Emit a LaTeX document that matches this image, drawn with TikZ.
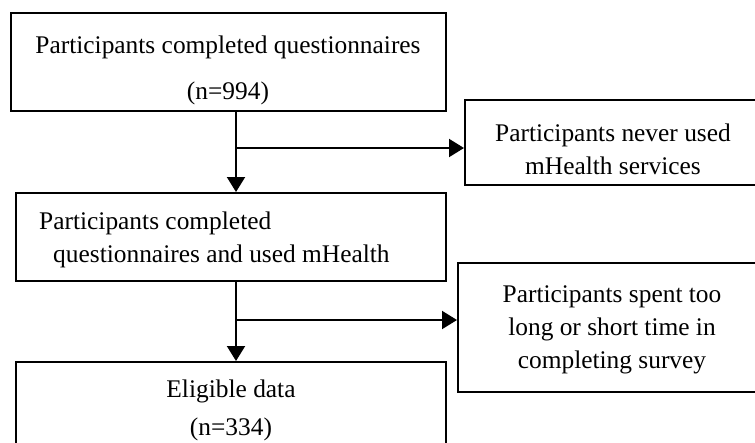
\documentclass[tikz,border=0pt]{standalone}
\usepackage{fontspec}
\setmainfont{Liberation Serif}
\usetikzlibrary{arrows.meta}

\tikzset{
    box/.style={draw, line width=2pt, rectangle, inner sep=0pt},
    label/.style={inner sep=0pt, align=center},
    link/.style={line width=2pt, -{Triangle[length=15pt,width=18pt]}}
}

\begin{document}
\begin{tikzpicture}[x=1pt, y=-1pt, font=\fontsize{25.4}{33}\selectfont]
        \useasboundingbox (0,0) rectangle (755,442);
        \clip (0,0) rectangle (755,442);

        % Boxes of the main flow
        \node[box, minimum width=435pt, minimum height=98pt] (total) at (228.5,62) {};
        \node[box, minimum width=430pt, minimum height=88pt] (used) at (231,237) {};
        \node[box, minimum width=430pt, minimum height=108pt] (eligible) at (231,416) {};

        % Boxes of the excluded groups
        \node[box, minimum width=296pt, minimum height=85pt] (never) at (613,142.5) {};
        \node[box, minimum width=308pt, minimum height=129pt] (spent) at (612,327.5) {};

        % Texts
        \node[label] (totaltext) at (228,70) {Participants completed questionnaires\\[13pt](n=994)};
        \node[label, align=left, anchor=west] (usedtext) at (39,240) {Participants completed\\\hspace*{14pt}questionnaires and used mHealth};
        \node[label] (eligibletext) at (231,410) {Eligible data\\[5pt](n=334)};
        \node[label] (nevertext) at (613,149) {Participants never used\\mHealth services};
        \node[label] (spenttext) at (612,330) {Participants spent too\\long or short time in\\completing survey};

        % Spine and forks
        \coordinate (spine) at (236,0);
        \coordinate (fork1) at (236,148);
        \coordinate (fork2) at (236,320);

        % Arrows
        \draw[link] (spine |- total.south) -- (spine |- used.north);
        \draw[link] (fork1) -- (fork1 -| never.west);
        \draw[link] (spine |- used.south) -- (spine |- eligible.north);
        \draw[link] (fork2) -- (fork2 -| spent.west);
\end{tikzpicture}
\end{document}
